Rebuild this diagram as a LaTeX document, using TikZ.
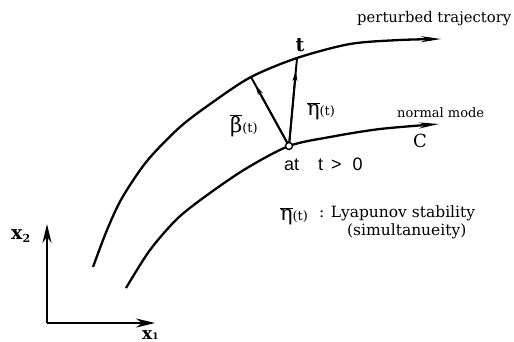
\documentclass[tikz,border=0pt]{standalone}
\usepackage{fontspec}
\setmainfont{DejaVu Serif}
\newfontfamily\sansf{Liberation Sans}
\usetikzlibrary{arrows.meta,calc}
\newcommand\vecbar[1]{$\overline{\hbox{#1}}$}
\newcommand\biggreek[1]{\fontsize{21}{21}\selectfont #1}
\newcommand\targ{\fontsize{13}{13}\selectfont(t)}
\begin{document}
\begin{tikzpicture}[x=1pt,y=-1pt,
  curve/.style={line width=2.3pt},
  vec/.style={line width=1.9pt},
  tipc/.style={-{Stealth[length=20pt,width=6pt]}},
  tipv/.style={-{Stealth[length=10pt,width=5pt]}},
  axis/.style={line width=2.5pt,-{Stealth[length=19pt,width=9pt]}},
  lbl/.style={inner sep=0pt,font=\fontsize{15.5}{18}\selectfont}]
\useasboundingbox (0,0) rectangle (514,342);
\clip (0,0) rectangle (514,342);
% key points
\coordinate (tp) at (297,58);
\coordinate (bt) at (251,77);
\coordinate (base) at (289,146);
\coordinate (O) at (47,323);
\coordinate (X1) at (155,323);
\coordinate (X2) at (47,224);
% perturbed trajectory
\draw[curve,tipc] plot[smooth,tension=0.5] coordinates
  {(93,267) (107,230) (122,198) (147,161) (180,127) (213,102) (251,77) (297,58) (350,44) (400,40) (441,39)};
% normal mode
\draw[curve,tipc] plot[smooth,tension=0.5] coordinates
  {(126,288) (150,250) (178,218) (210,193) (247,168) (289,146) (330,137) (380,129) (439,124)};
% vectors
\draw[vec] (base) -- (bt);
\draw[vec,tipv] (base) -- ($(base)!0.88!(bt)$);
\draw[vec] (base) -- (tp);
\draw[vec,tipv] (base) -- ($(base)!0.85!(tp)$);
\node[circle,draw,line width=1.4pt,minimum size=7pt,inner sep=0pt,fill=white] (o) at (base) {};
% axes
\draw[axis] (O) -- (X2);
\draw[axis] (O) -- (X1);
% labels
\node[inner sep=0pt,font=\fontsize{14.8}{17}\selectfont,anchor=west] (pt) at (357,19) {perturbed trajectory};
\node[inner sep=0pt,font=\fontsize{13}{15}\selectfont,anchor=west] (nm) at (397,113) {normal mode};
\node[inner sep=0pt,font=\fontsize{18}{18}\selectfont] (C) at (420,140.5) {C};
\node[inner sep=0pt,font=\fontsize{19}{19}\selectfont\bfseries] (t) at (300,45) {t};
\node[inner sep=0pt,anchor=west,font=\sansf\fontsize{18}{18}\selectfont] (at) at (284,164) {at\hspace{19pt}t\hspace{8pt}>\hspace{11pt}0};
\node[inner sep=0pt] (eta) at (321,111) {\vecbar{\biggreek{η}}\targ};
\node[inner sep=0pt] (beta) at (244,126) {\vecbar{\biggreek{β}}\targ};
\node[inner sep=0pt] (leta) at (294,216) {\vecbar{\biggreek{η}}\targ};
\node[lbl,anchor=west] (ly) at (319,213) {: Lyapunov stability};
\node[lbl,anchor=west] (si) at (347,231) {(simultanueity)};
\node[inner sep=0pt,anchor=base west] (x2) at (11,239) {\fontsize{19}{19}\selectfont\bfseries x\raisebox{-3pt}{\fontsize{11}{11}\selectfont 2}};
\node[inner sep=0pt,anchor=base west] (x1) at (142,339) {\fontsize{17}{17}\selectfont\bfseries x{\fontsize{9}{9}\selectfont 1}};
\end{tikzpicture}
\end{document}
